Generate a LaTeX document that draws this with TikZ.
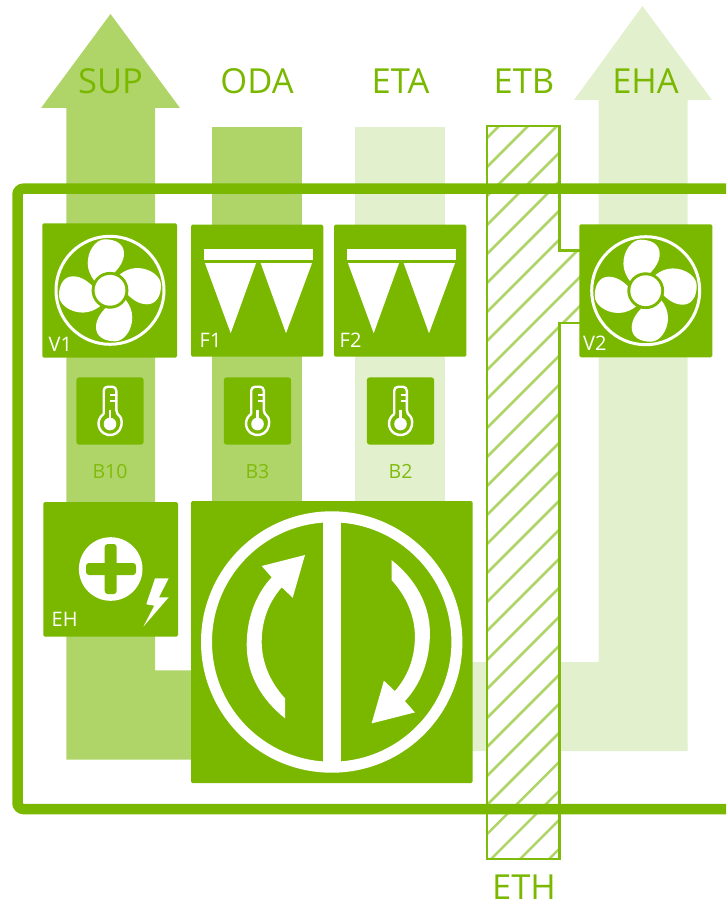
\documentclass[tikz,border=0pt]{standalone}
\usepackage{fontspec}
\setmainfont{Open Sans}
\definecolor{mg}{HTML}{7AB800}
\definecolor{lg}{HTML}{AFD568}
\definecolor{pg}{HTML}{E3F0CE}
\tikzset{
  x=1pt,y=1pt,
  box/.style={fill=mg,rounded corners=1.5},
  biglabel/.style={anchor=base,text=mg,font=\fontsize{34.5}{34.5}\selectfont,inner sep=0},
  inlabel/.style={anchor=base west,text=white,font=\fontsize{20}{20}\selectfont,inner sep=0},
  senslabel/.style={anchor=base,text=mg!90!lg,font=\fontsize{19.5}{19.5}\selectfont,inner sep=0},
  hatchline/.style={draw=lg,line width=2.5},
  fanicon/.pic={
    \draw[white,line width=3] (0,0) circle (54);
    \foreach \a in {0,-90,-180,-270}{
      \fill[white,rotate=\a] (-16,10) .. controls (-19,14) and (-22.3,20) .. (-22.3,27)
        .. controls (-22.3,40) and (-14,51) .. (-5,51)
        .. controls (6,51) and (14,46) .. (14,37)
        .. controls (14,28) and (8,21) .. (1.7,15) -- (0,0) -- cycle;
    }
    \fill[mg] (0,0) circle (18.4);
    \fill[white] (0,0) circle (15.4);
  },
  filtericon/.pic={
    \fill[white] (13,-24) rectangle (122,-35);
    \fill[white] (14,-38.5) -- (65,-38.5) -- (39.7,-108.5) -- cycle;
    \fill[white] (69.7,-38.5) -- (121,-38.5) -- (95,-108.5) -- cycle;
  },
  thermoicon/.pic={
    \draw[white,line width=2.4,line join=round,rounded corners=4]
      (-6.3,-27.3) -- (-6.3,0) -- (6.3,0) -- (6.3,-27.3)
      [sharp corners] arc (56.8:-236.8:11.5);
    \draw[white,line width=2.8] (0,-23) -- (0,-34);
    \fill[white] (0,-37.3) circle (6.3);
    \draw[white,line width=2] (0,-8) -- (6,-8) (0,-14) -- (6,-14);
  }
}
\begin{document}
\begin{tikzpicture}
\useasboundingbox (0,-904) rectangle (726,0);
% air bands
\fill[lg] (110.5,-14) -- (180,-108) -- (155,-108) -- (155,-670.3) -- (191,-670.3) -- (191,-759.5) -- (66.3,-759.5) -- (66.3,-108) -- (41,-108) -- cycle;
\fill[lg] (212,-127) rectangle (302,-502);
\fill[pg] (355,-127) rectangle (445,-502);
\fill[pg] (642.5,-6) -- (712,-100) -- (687.5,-100) -- (687.5,-751) -- (470,-751) -- (470,-662) -- (598.7,-662) -- (598.7,-100) -- (574,-100) -- cycle;
% hatched duct
\fill[white] (487,-126) -- (559.5,-126) -- (559.5,-250.5) -- (585,-250.5) -- (585,-323) -- (559.5,-323) -- (559.5,-859) -- (487,-859) -- cycle;
\begin{scope}
  \clip (487,-126) -- (559.5,-126) -- (559.5,-250.5) -- (585,-250.5) -- (585,-323) -- (559.5,-323) -- (559.5,-859) -- (487,-859) -- cycle;
  \foreach \k in {0,...,30}{
    \pgfmathsetmacro{\c}{625+29*\k}
    \draw[hatchline] (470,{-(\c-470)}) -- (600,{-(\c-600)});
  }
\end{scope}
\draw[mg!90!lg,line width=2.6] (585,-250.5) -- (559.5,-250.5) -- (559.5,-126) -- (487,-126) -- (487,-859) -- (559.5,-859) -- (559.5,-323) -- (585,-323);
% casing
\draw[mg,line width=10.5,rounded corners=6] (726,-188.7) -- (17.5,-188.7) -- (17.5,-809) -- (726,-809);
% fans
\fill[box] (42.3,-223.3) rectangle (177,-357.7);
\pic at (110,-290.3) {fanicon};
\node[inlabel] (v1) at (48.5,-351) {V1};
\fill[box] (579.3,-224.3) rectangle (712.3,-357.3);
\pic at (645.7,-290.7) {fanicon};
\node[inlabel] (v2) at (583,-350) {V2};
% filters
\fill[box] (191,-224.7) rectangle (323.3,-356.7);
\pic at (191,-224.7) {filtericon};
\node[inlabel] (f1) at (199.5,-347) {F1};
\fill[box] (334,-224.7) rectangle (466.3,-356.7);
\pic at (334,-224.7) {filtericon};
\node[inlabel] (f2) at (339.5,-347) {F2};
% sensors
\foreach \cx/\nm/\lab in {110/b10/B10,257.5/b3/B3,400.5/b2/B2}{
  \fill[mg,rounded corners=3] ({\cx-33.7},-377.3) rectangle ({\cx+33.7},-444.7);
  \pic at (\cx,-386.7) {thermoicon};
  \node[senslabel] (\nm) at (\cx,-478) {\lab};
}
% electric heater
\fill[box] (43.3,-502) rectangle (178,-636.7);
\fill[white] (110.7,-569) circle (31.8);
\fill[mg,rounded corners=3] (104.7,-544) rectangle (116.7,-594);
\fill[mg,rounded corners=3] (86,-563) rectangle (136,-575);
\fill[white] (155,-578.3) -- (168.7,-578.3) -- (159,-597.3) -- (168.7,-597.3) -- (143.3,-626.7) -- (154.3,-605.7) -- (146.3,-604.3) -- cycle;
\node[inlabel] (eh) at (51.5,-626) {EH};
% heat exchanger
\fill[box] (191,-501) rectangle (472.7,-783);
\draw[white,line width=11] (331.7,-642) circle (125.2);
\fill[white] (323.3,-520) rectangle (340.7,-765);
\foreach \rot in {0,180}{
  \fill[white,rotate around={\rot:(338.3,-639.2)}] (285,-718.3)
    .. controls (262,-700) and (246.7,-675) .. (246.7,-645)
    .. controls (246.7,-618) and (256,-594) .. (271.7,-577.3)
    -- (261.7,-566) -- (305,-555) -- (292.7,-597.7) -- (281.7,-587.3)
    .. controls (269,-602) and (261.7,-620) .. (261.7,-642)
    .. controls (261.7,-662) and (270,-682) .. (285,-698.3) -- cycle;
}
% labels
\node[biglabel] (sup) at (110.5,-94) {SUP};
\node[biglabel] (oda) at (257,-94) {ODA};
\node[biglabel] (eta) at (400.5,-94) {ETA};
\node[biglabel] (etb) at (524,-94) {ETB};
\node[biglabel] (eha) at (645.5,-94) {EHA};
\node[biglabel] (eth) at (524,-899.5) {ETH};
\end{tikzpicture}
\end{document}
